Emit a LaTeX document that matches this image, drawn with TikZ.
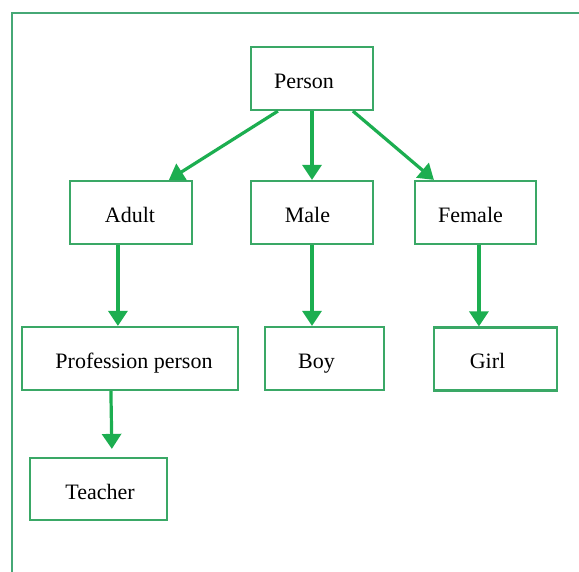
\documentclass[tikz,border=0pt]{standalone}
\usepackage{fontspec}
\setmainfont{Liberation Serif}
\usetikzlibrary{arrows.meta}
\definecolor{boxgreen}{RGB}{58,168,102}
\definecolor{arrgreen}{RGB}{28,174,80}
\definecolor{framegreen}{RGB}{70,168,118}
\newcommand{\txs}[2]{\hspace*{#1}#2}
\tikzset{
  box/.style={draw=boxgreen, line width=2.2pt, fill=white, minimum height=63pt, inner sep=0pt,
    text height=20pt, text depth=0pt,
    font=\fontsize{22}{26}\selectfont, text=black},
  arr/.style={draw=arrgreen, line width=3.2pt, -{Triangle[length=15pt,width=19pt]}},
  frame/.style={draw=framegreen, line width=2pt}
}
\begin{document}
\begin{tikzpicture}[x=1pt,y=-1pt]
\useasboundingbox (0,0) rectangle (579,572);
\fill[white] (0,0) rectangle (579,572);
\draw[frame] (12,572) -- (12,13) -- (579,13);

\node[box, minimum width=122pt] (person) at (312,78.5) {\txs{-16pt}{Person}};
\node[box, minimum width=122pt] (adult) at (131,212.5) {\txs{-2pt}{Adult}};
\node[box, minimum width=122pt] (male) at (312,212.5) {\txs{-9pt}{Male}};
\node[box, minimum width=121pt] (female) at (475.5,212.5) {\txs{-10pt}{Female}};
\node[box, minimum width=216pt] (prof) at (130,358.5) {\txs{8pt}{Profession person}};
\node[box, minimum width=119pt] (boy) at (324.5,358.5) {\txs{-16pt}{Boy}};
\node[box, minimum width=123pt] (girl) at (495.5,359) {\txs{-16pt}{Girl}};
\node[box, minimum width=137pt, minimum height=62pt] (teacher) at (98.5,489) {\txs{3pt}{Teacher}};

\draw[arr] ([xshift=28pt]person.south west) -- ([xshift=100pt]adult.north west);
\draw[arr] (person.south) -- (male.north);
\draw[arr] ([xshift=103pt]person.south west) -- ([xshift=20pt]female.north west);
\draw[arr] ([xshift=49pt]adult.south west) -- ([xshift=97pt]prof.north west);
\draw[arr] (male.south) -- (male.south |- boy.north);
\draw[arr] ([xshift=65pt]female.south west) -- ([xshift=46pt]girl.north west);
\draw[arr, shorten >=8pt] ([xshift=90pt]prof.south west) -- ([xshift=13.5pt]teacher.north);
\end{tikzpicture}
\end{document}
